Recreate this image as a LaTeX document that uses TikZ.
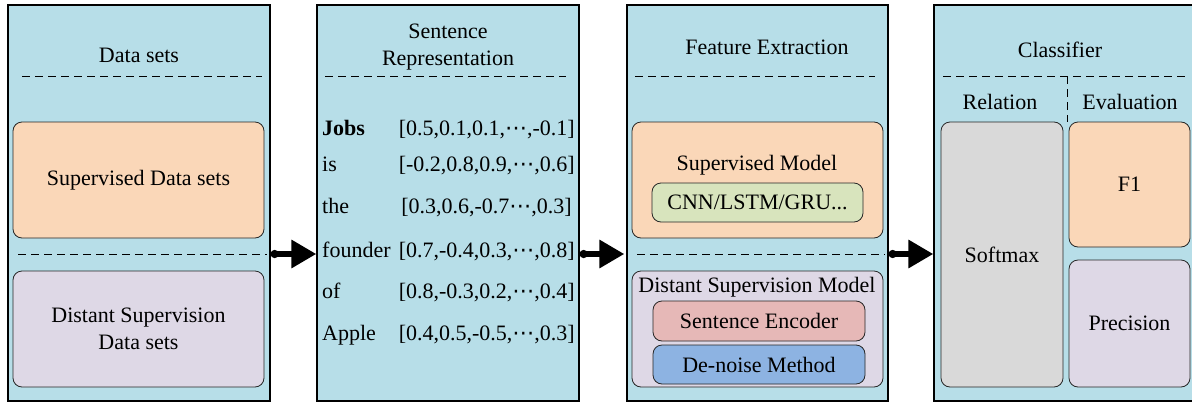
\documentclass[tikz,border=0pt]{standalone}
\usepackage{fontspec}
\setmainfont{Liberation Serif}
\newfontfamily\timesfont{Liberation Serif}
\newfontfamily\symfont{DejaVu Sans}
\usetikzlibrary{arrows.meta}
\definecolor{panelblue}{HTML}{B7DEE8}
\definecolor{peach}{HTML}{FAD7B8}
\definecolor{lavender}{HTML}{DED8E6}
\definecolor{sage}{HTML}{D8E4BD}
\definecolor{rosebox}{HTML}{E6B8B7}
\definecolor{skybox}{HTML}{8DB3E2}
\definecolor{greybox}{HTML}{D9D9D9}
\newcommand{\cd}{{\symfont ⋯}}
\begin{document}
\begin{tikzpicture}[x=1pt,y=-1pt,
  font=\timesfont\fontsize{22}{27}\selectfont,
  panel/.style={draw=black, line width=1.3pt, fill=panelblue, inner sep=0pt},
  rbox/.style={draw=black!85, line width=0.8pt, rounded corners=9pt, inner sep=0pt, align=center},
  sepline/.style={dash pattern=on 8pt off 5pt, line width=1pt},
  txt/.style={inner sep=0pt, align=center},
  bigarrow/.style={line width=6.5pt, {Circle[length=8pt 0 0]}-{Triangle[length=25pt 0 0,width=27pt 0 0]}}
]
\useasboundingbox (0,0) rectangle (1192,402);

% panels
\node[panel, minimum width=262pt, minimum height=396pt] (p1) at (139,203) {};
\node[panel, minimum width=262pt, minimum height=396pt] (p2) at (448,203) {};
\node[panel, minimum width=261pt, minimum height=396pt] (p3) at (757.5,203) {};
\node[panel, minimum width=266pt, minimum height=396pt] (p4) at (1067,203) {};

% panel 1
\node[txt] (t1) at (139,55) {Data sets};
\draw[sepline] (22,76) -- (262,76);
\node[rbox, fill=peach, minimum width=251pt, minimum height=116pt] (sds) at (138.5,180) {Supervised Data sets};
\draw[sepline] (18,254) -- (267,254);
\node[rbox, fill=lavender, minimum width=251pt, minimum height=116pt] (dsds) at (138.5,329) {Distant Supervision\\Data sets};

% panel 2
\node[txt] (t2) at (448,47) {Sentence\\Representation};
\draw[sepline] (325,76) -- (566,76);
\node[txt, anchor=base west] (w1) at (322,135) {\textbf{Jobs}};
\node[txt, anchor=base west] (w2) at (322,171) {is};
\node[txt, anchor=base west] (w3) at (322,213) {the};
\node[txt, anchor=base west] (w4) at (322,257) {founder};
\node[txt, anchor=base west] (w5) at (322,298) {of};
\node[txt, anchor=base west] (w6) at (322,340) {Apple};
\node[txt, anchor=base east] (v1) at (575,135) {[0.5,0.1,0.1,\cd,-0.1]};
\node[txt, anchor=base east] (v2) at (575,171) {[-0.2,0.8,0.9,\cd,0.6]};
\node[txt, anchor=base east] (v3) at (572,213) {[0.3,0.6,-0.7\cd,0.3]};
\node[txt, anchor=base east] (v4) at (575,257) {[0.7,-0.4,0.3,\cd,0.8]};
\node[txt, anchor=base east] (v5) at (575,298) {[0.8,-0.3,0.2,\cd,0.4]};
\node[txt, anchor=base east] (v6) at (575,340) {[0.4,0.5,-0.5,\cd,0.3]};

% panel 3
\node[txt] (t3) at (767,47) {Feature Extraction};
\draw[sepline] (635,76) -- (875,76);
\node[rbox, fill=peach, minimum width=251pt, minimum height=116pt] (sm) at (757.5,180) {};
\node[txt] (smt) at (757,165) {Supervised Model};
\node[rbox, fill=sage, minimum width=211pt, minimum height=39pt] (cnn) at (757.5,202.5) {CNN/LSTM/GRU...};
\draw[sepline] (637,254) -- (885,254);
\node[rbox, fill=lavender, minimum width=251pt, minimum height=116pt] (dsm) at (757.5,329) {};
\node[txt] (dsmt) at (757,287) {Distant Supervision Model};
\node[rbox, fill=rosebox, minimum width=212pt, minimum height=40pt] (se) at (759,321) {Sentence Encoder};
\node[rbox, fill=skybox, minimum width=212pt, minimum height=39pt] (dn) at (759,364.5) {De-noise Method};

% panel 4
\node[txt] (t4) at (1060,50) {Classifier};
\draw[sepline] (943,76) -- (1185,76);
\draw[sepline] (1067,76) -- (1067,122);
\node[txt] (rel) at (1000,102) {Relation};
\node[txt] (eva) at (1130,102) {Evaluation};
\node[rbox, fill=greybox, minimum width=122pt, minimum height=265pt] (soft) at (1002,254.5) {Softmax};
\node[rbox, fill=peach, minimum width=121pt, minimum height=125pt] (f1) at (1129.5,184.5) {F1};
\node[rbox, fill=lavender, minimum width=121pt, minimum height=127pt] (prec) at (1129.5,323.5) {Precision};

% arrows
\coordinate (ay) at (0,254);
\draw[bigarrow] (p1.east |- ay) -- (p2.west |- ay);
\draw[bigarrow] (p2.east |- ay) -- ([xshift=-2pt]p3.west |- ay);
\draw[bigarrow] (p3.east |- ay) -- (p4.west |- ay);
\end{tikzpicture}
\end{document}
